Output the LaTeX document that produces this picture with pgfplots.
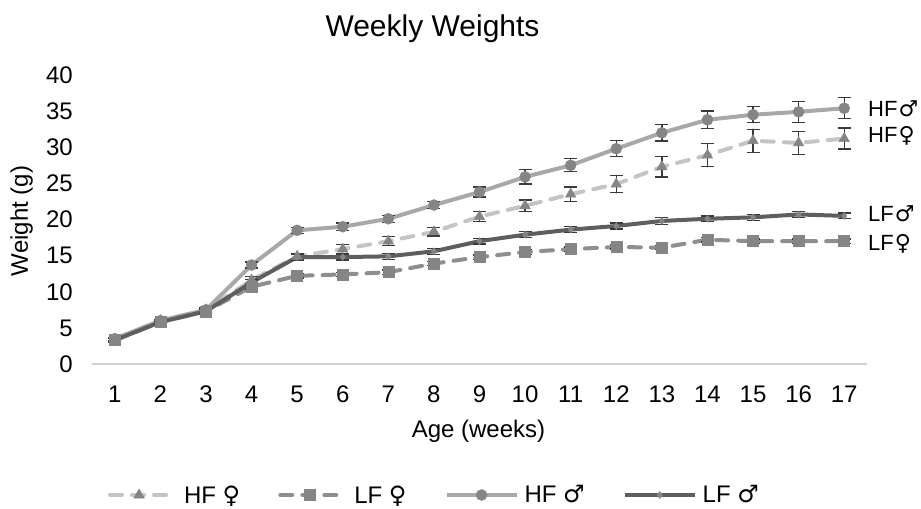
\documentclass[border=0pt]{standalone}
\usepackage{fontspec}
\setmainfont{Liberation Sans}
\newfontfamily\symf{DejaVu Sans}
\usepackage{pgfplots}
\pgfplotsset{compat=1.18}

\definecolor{hffl}{HTML}{C4C4C4}
\definecolor{lffl}{HTML}{8E8E8E}
\definecolor{hfml}{HTML}{A8A8A8}
\definecolor{lfml}{HTML}{5E5E5E}
\definecolor{mk}{HTML}{858585}
\definecolor{err}{HTML}{3A3A3A}
\definecolor{axgray}{HTML}{D0D0D0}

\pgfplotsset{
    dashleg/.style={legend image code/.code={
        \draw[mark repeat=2, mark phase=2, ##1]
        plot coordinates {(0bp,0bp) (29bp,0bp) (58bp,0bp)};
        \path (66bp,0bp);}},
    solidleg/.style={legend image code/.code={
        \draw[mark repeat=2, mark phase=2, ##1]
        plot coordinates {(0bp,0bp) (35bp,0bp) (70bp,0bp)};}},
}

\begin{document}
\begin{tikzpicture}
\path[use as bounding box] (-92bp,-145bp) rectangle (829bp,364bp);
\begin{axis}[
    at={(0,0)}, anchor=south west,
    scale only axis,
    width=775bp, height=289bp,
    xmin=0.5, xmax=17.5,
    ymin=0, ymax=40,
    xtick={1,...,17},
    ytick={0,5,...,40},
    axis x line=bottom, axis y line=left,
    x axis line style={draw=axgray, line width=1.3bp, -},
    y axis line style={draw=none},
    major tick length=0pt,
    tick label style={font=\fontsize{24bp}{28bp}\selectfont, text=black},
    /pgf/number format/assume math mode=true,
    xticklabel style={anchor=north, inner sep=0pt, yshift=-22bp},
    yticklabel style={anchor=east, inner sep=0pt, xshift=-19bp},
    clip=false,
    every axis plot/.append style={line width=4bp},
    error bars/error bar style={color=err, line width=1.3bp, solid},
    error bars/error mark options={rotate=90, mark size=6.5bp, line width=1.3bp, color=err, solid},
    legend style={draw=none, fill=none,
        at={(0.4445,-0.4533)}, anchor=center,
        font=\fontsize{24bp}{28bp}\selectfont,
        nodes={inner xsep=6bp, inner ysep=2bp},
        /tikz/every even column/.append style={column sep=32bp}},
    legend columns=4,
]

% HF female
\addplot[color=hffl, dash pattern=on 12bp off 10bp, line cap=round, dashleg,
    mark=triangle*, mark size=6bp, mark options={solid, fill=mk, draw=mk, line width=0.5bp},
    error bars/.cd, y dir=both, y explicit]
    coordinates {
    (1,3.4) +- (0,0.2) (2,6.0) +- (0,0.2) (3,7.5) +- (0,0.3) (4,11.6) +- (0,0.5)
    (5,14.9) +- (0,0.4) (6,15.9) +- (0,0.6) (7,17.0) +- (0,0.6) (8,18.3) +- (0,0.6)
    (9,20.4) +- (0,0.7) (10,21.9) +- (0,0.8) (11,23.5) +- (0,1.0) (12,24.9) +- (0,1.2)
    (13,27.3) +- (0,1.4) (14,28.9) +- (0,1.6) (15,30.9) +- (0,1.6) (16,30.6) +- (0,1.6)
    (17,31.2) +- (0,1.45)
    };
\addlegendentry{HF {\symf ♀}}

% LF female
\addplot[color=lffl, dash pattern=on 12bp off 10bp, line cap=round, dashleg,
    mark=square*, mark size=5.5bp, mark options={solid, fill=mk, draw=mk, line width=0.5bp},
    error bars/.cd, y dir=both, y explicit]
    coordinates {
    (1,3.3) +- (0,0.2) (2,5.8) +- (0,0.2) (3,7.3) +- (0,0.2) (4,10.7) +- (0,0.3)
    (5,12.2) +- (0,0.3) (6,12.4) +- (0,0.3) (7,12.7) +- (0,0.3) (8,13.9) +- (0,0.3)
    (9,14.8) +- (0,0.3) (10,15.5) +- (0,0.3) (11,15.9) +- (0,0.3) (12,16.2) +- (0,0.3)
    (13,16.1) +- (0,0.3) (14,17.2) +- (0,0.3) (15,17.0) +- (0,0.3) (16,17.0) +- (0,0.3)
    (17,17.0) +- (0,0.3)
    };
\addlegendentry{LF {\symf ♀}}

% HF male
\addplot[color=hfml, solidleg,
    mark=*, mark size=5.5bp, mark options={solid, fill=mk, draw=mk, line width=0.5bp},
    error bars/.cd, y dir=both, y explicit]
    coordinates {
    (1,3.5) +- (0,0.2) (2,6.0) +- (0,0.2) (3,7.5) +- (0,0.3) (4,13.7) +- (0,0.4)
    (5,18.5) +- (0,0.4) (6,19.0) +- (0,0.5) (7,20.1) +- (0,0.5) (8,22.0) +- (0,0.5)
    (9,23.8) +- (0,0.7) (10,25.9) +- (0,1.0) (11,27.5) +- (0,0.9) (12,29.8) +- (0,1.1)
    (13,32.0) +- (0,1.15) (14,33.8) +- (0,1.2) (15,34.5) +- (0,1.1) (16,34.9) +- (0,1.45)
    (17,35.4) +- (0,1.45)
    };
\addlegendentry{HF {\symf ♂}}

% LF male
\addplot[color=lfml, solidleg,
    mark=diamond*, mark size=3.5bp, mark options={solid, fill=mk, draw=mk, line width=0.5bp},
    error bars/.cd, y dir=both, y explicit]
    coordinates {
    (1,3.3) +- (0,0.3) (2,5.8) +- (0,0.3) (3,7.3) +- (0,0.3) (4,11.3) +- (0,0.4)
    (5,14.8) +- (0,0.4) (6,14.8) +- (0,0.4) (7,14.9) +- (0,0.4) (8,15.6) +- (0,0.4)
    (9,17.0) +- (0,0.4) (10,17.9) +- (0,0.4) (11,18.6) +- (0,0.4) (12,19.1) +- (0,0.4)
    (13,19.8) +- (0,0.5) (14,20.1) +- (0,0.4) (15,20.3) +- (0,0.4) (16,20.7) +- (0,0.4)
    (17,20.5) +- (0,0.4)
    };
\addlegendentry{LF {\symf ♂}}

\begin{scope}[every node/.style={anchor=base west, inner sep=0pt, xshift=1bp, yshift=-7.5bp,
    font=\fontsize{22bp}{26bp}\selectfont}]
\node at (axis cs:17.5,35.3) {HF\kern1bp{\symf ♂}};
\node at (axis cs:17.5,31.7) {HF\kern1bp{\symf ♀}};
\node at (axis cs:17.5,20.7) {LF\kern1bp{\symf ♂}};
\node at (axis cs:17.5,16.7) {LF\kern1bp{\symf ♀}};
\end{scope}
\end{axis}

\node[anchor=base, font=\fontsize{30bp}{34bp}\selectfont] at (340.5bp,327.3bp) {Weekly Weights};
\node[anchor=base, font=\fontsize{24bp}{28bp}\selectfont] at (386.5bp,-73bp) {Age (weeks)};
\node[anchor=base, rotate=90, font=\fontsize{24bp}{28bp}\selectfont] at (-64bp,143bp) {Weight (g)};
\end{tikzpicture}
\end{document}
